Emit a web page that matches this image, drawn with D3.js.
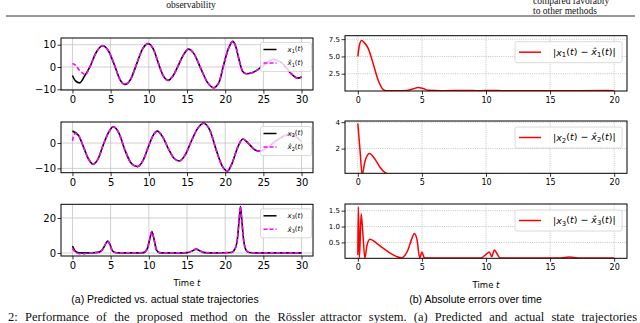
<!DOCTYPE html>
<html>
<head>
<meta charset="utf-8">
<script src="https://cdn.jsdelivr.net/npm/d3@7"></script>
<style>
  body { margin: 0; background: #fff; }
  svg { display: block; }
</style>
</head>
<body>
<div id="fig"></div>
<script>
// ---- (a) state trajectories, t in [0, 30] ----
const tX1 = [0, 0.4, 0.95, 1.6, 2.3, 3.1, 3.95, 4.7, 5.5, 6.2, 6.9, 7.6, 8.4, 9.2, 9.9, 10.6, 11.2, 11.9, 12.5, 13.2, 13.9, 14.5, 15.2, 15.9, 16.8, 17.7, 18.5, 19.2, 19.8, 20.4, 21.0, 21.4, 21.8, 22.3, 22.8, 23.4, 24.2, 25.1, 26.3, 27.4, 28.5, 29.5, 30];
const x1True = [-3.8, -6.2, -7.1, -4.0, 0.2, 6.5, 9.5, 7.3, 0.9, -5.5, -7.8, -5.6, 1.3, 8.2, 10.5, 8.0, 2.2, -4.0, -6.0, -3.8, 1.0, 5.2, 8.0, 6.0, -0.6, -7.0, -9.3, -6.8, 1.0, 8.0, 11.5, 9.0, 3.5, -2.0, -3.0, -2.7, -1.4, 1.0, 3.5, 1.8, -2.5, -5.0, -4.5];
// estimate differs only at the start, then follows the true curve
const tX1HatStart = [0, 0.4, 0.8, 1.25, 1.7];
const x1HatStart = [1.6, 0.8, -1.0, -2.5, -3.3];

const tX2 = [0, 0.8, 1.5, 2.1, 2.7, 3.4, 4.0, 4.7, 5.35, 6.1, 6.9, 7.7, 8.5, 9.3, 10.0, 10.6, 11.1, 11.8, 12.6, 13.3, 14.0, 14.8, 15.6, 16.4, 17.2, 18.0, 18.8, 19.6, 20.3, 20.9, 21.6, 22.3, 23.0, 23.8, 24.5, 25.5, 26.5, 27.5, 28.5, 29.3, 30];
const x2True = [4.7, 3.0, -2.0, -6.3, -8.3, -6.0, -1.0, 4.0, 6.4, 3.8, -3.0, -8.0, -9.3, -6.5, -1.0, 3.2, 4.7, 2.5, -2.5, -6.0, -7.1, -4.5, 1.0, 5.8, 7.8, 5.0, -2.5, -9.0, -11.0, -8.0, -2.0, 1.6, 0.0, -2.5, -3.2, -1.8, 0.5, 2.5, 3.5, 2.5, 0.5];
const tX2HatStart = [0, 0.15, 0.35, 0.55];
const x2HatStart = [0.9, 2.8, 3.8, 3.6];

const tX3 = [0, 0.3, 0.7, 1.2, 2.0, 3.0, 3.5, 3.9, 4.3, 4.6, 4.9, 5.2, 5.6, 6.2, 8.0, 9.3, 9.8, 10.1, 10.4, 10.7, 11.0, 11.4, 12.0, 14.0, 15.0, 15.7, 16.2, 16.7, 17.3, 19.0, 20.8, 21.3, 21.6, 21.85, 22.0, 22.15, 22.4, 22.7, 23.1, 24.0, 27.0, 30];
const x3True = [4.0, 1.5, 0.3, 0.1, 0.1, 0.2, 0.5, 1.8, 4.8, 6.8, 5.0, 1.5, 0.3, 0.1, 0.1, 0.2, 2.5, 7.5, 12.2, 7.5, 1.8, 0.2, 0.1, 0.1, 0.2, 1.2, 2.2, 1.2, 0.2, 0.1, 0.3, 2.5, 8.0, 20.0, 26.5, 20.0, 8.0, 2.0, 0.3, 0.1, 0.1, 0.1];
const tX3HatStart = [0, 0.3, 0.7, 1.2, 1.6, 2.0];
const x3HatStart = [2.6, 0.8, -0.2, -0.6, -0.4, 0.0];

// ---- (b) absolute errors, t in [0, 20] ----
const tE1 = [0, 0.1, 0.29, 0.5, 0.8, 1.19, 1.58, 1.97, 2.23, 3.0, 3.8, 4.3, 4.7, 5.1, 5.5, 6.5, 8.5, 9.5, 10.3, 11.5, 13.0, 15.0, 17.0, 19.5, 20];
const err1 = [5.0, 6.4, 7.3, 7.0, 6.2, 4.0, 1.6, 0.24, 0.03, 0.02, 0.06, 0.3, 0.5, 0.35, 0.1, 0.04, 0.08, 0.03, 0.08, 0.03, 0.04, 0.02, 0.05, 0.07, 0.05];
const tE2 = [0, 0.17, 0.34, 0.55, 0.91, 1.3, 1.7, 2.1, 2.5, 3.0, 4.0, 5.5, 7.0, 8.5, 10.0, 11.5, 13.0, 15.5, 17.0, 19.0, 20];
const err2 = [3.9, 1.9, 0.03, 1.0, 1.62, 1.25, 0.63, 0.2, 0.05, 0.02, 0.03, 0.02, 0.07, 0.03, 0.08, 0.02, 0.03, 0.07, 0.03, 0.08, 0.04];
const tE3 = [0, 0.04, 0.13, 0.26, 0.4, 0.55, 0.72, 0.95, 1.45, 1.97, 2.49, 3.0, 3.4, 3.65, 3.92, 4.18, 4.41, 4.62, 4.83, 5.0, 5.2, 6.0, 9.6, 10.0, 10.25, 10.45, 10.65, 10.85, 11.1, 15.8, 16.5, 17.2, 20];
const err3 = [0.1, 1.62, 0.02, 1.4, 0.75, 0.01, 0.42, 0.6, 0.48, 0.32, 0.17, 0.06, 0.01, 0.08, 0.27, 0.58, 0.78, 0.58, 0.01, 0.2, 0.01, 0.01, 0.01, 0.12, 0.2, 0.05, 0.26, 0.15, 0.01, 0.01, 0.04, 0.01, 0.01];

// ticks
const leftXTicks = [0, 5, 10, 15, 20, 25, 30];
const rightXTicks = [0, 5, 10, 15, 20];
const x1Ticks = [-10, 0, 10];
const x2Ticks = [-10, 0];
const x3Ticks = [0, 20];
const e1Ticks = [2.5, 5.0, 7.5];
const e2Ticks = [2, 4];
const e3Ticks = [0.5, 1.0, 1.5];

const FONT = "'DejaVu Sans', sans-serif";
const SANS = "'Liberation Sans', Arial, sans-serif";
const SERIF = "'Liberation Serif', 'Times New Roman', serif";

const svg = d3.select("#fig").append("svg")
    .attr("width", 640).attr("height", 323)
    .style("background", "#fff");

function pairs(ts, vs) {
    return ts.map((t, i) => [t, vs[i]]);
}
function hatSeries(tStart, vStart, ts, vs) {
    const last = tStart[tStart.length - 1];
    return pairs(tStart, vStart).concat(pairs(ts, vs).filter(d => d[0] > last));
}

// math label like x_1(t) or |x_1(t) - x̂_1(t)|
function mathText(txt, parts) {
    parts.forEach(p => {
        const ts = txt.append("tspan").text(p.s);
        if (p.it) ts.attr("font-style", "italic");
        if (p.sub) ts.attr("font-size", "72%").attr("dy", "0.22em");
        if (p.up) ts.attr("dy", "-0.22em");
    });
}
function stateLabel(i, hat) {
    return [{s: hat ? "x\u0302" : "x", it: true}, {s: i, sub: true}, {s: "(", up: true}, {s: "t", it: true}, {s: ")"}];
}

let clipId = 0;
function panel(p) {
    const x = d3.scaleLinear().domain(p.xDomain).range([p.left, p.right]);
    const y = d3.scaleLinear().domain(p.yDomain).range([p.bottom, p.top]);
    const g = svg.append("g");

    const grid = g.append("g")
        .attr("stroke", p.dotted ? "#b4b4b4" : "#c4c4c4")
        .attr("stroke-width", 0.8)
        .attr("stroke-dasharray", p.dotted ? "1,1.2" : null);
    grid.selectAll("line.gx").data(p.xTicks).join("line").attr("class", "gx")
        .attr("x1", d => x(d)).attr("x2", d => x(d))
        .attr("y1", p.top).attr("y2", p.bottom);
    grid.selectAll("line.gy").data(p.yTicks).join("line").attr("class", "gy")
        .attr("x1", p.left).attr("x2", p.right)
        .attr("y1", d => y(d)).attr("y2", d => y(d));

    const id = "clip" + (clipId++);
    g.append("clipPath").attr("id", id).append("rect")
        .attr("x", p.left).attr("y", p.top)
        .attr("width", p.right - p.left).attr("height", p.bottom - p.top);

    const line = d3.line().x(d => x(d[0])).y(d => y(d[1])).curve(d3.curveMonotoneX);
    const lines = g.append("g").attr("clip-path", `url(#${id})`);
    p.series.forEach(s => {
        lines.append("path")
            .attr("d", line(s.data))
            .attr("fill", "none")
            .attr("stroke", s.color)
            .attr("stroke-width", s.width || 1.5)
            .attr("stroke-dasharray", s.dash || null)
            .attr("stroke-linejoin", "round");
    });

    g.append("rect")
        .attr("x", p.left).attr("y", p.top)
        .attr("width", p.right - p.left).attr("height", p.bottom - p.top)
        .attr("fill", "none").attr("stroke", "#000").attr("stroke-width", 1);

    const ax = g.append("g").attr("transform", `translate(0,${p.bottom})`)
        .call(d3.axisBottom(x).tickValues(p.xTicks).tickSize(3.5).tickPadding(p.xPad).tickFormat(d3.format("d")));
    const ay = g.append("g").attr("transform", `translate(${p.left},0)`)
        .call(d3.axisLeft(y).tickValues(p.yTicks).tickSize(3.5).tickPadding(1.5).tickFormat(p.yFormat));
    [ax, ay].forEach(a => {
        a.select(".domain").remove();
        a.selectAll("line").attr("stroke", "#000").attr("stroke-width", 0.8);
        a.selectAll("text").attr("fill", "#000").attr("font-family", FONT);
    });
    ax.selectAll("text").attr("font-size", p.xFont);
    ay.selectAll("text").attr("font-size", p.yFont);

    if (p.xlabel) {
        const t = g.append("text")
            .attr("x", (p.left + p.right) / 2).attr("y", p.bottom + 30)
            .attr("text-anchor", "middle")
            .attr("font-family", FONT).attr("font-size", 8.5);
        t.append("tspan").text("Time ");
        t.append("tspan").attr("font-style", "italic").text("t");
    }
    p.legend(g, p);
}

function legendLeft(g, p) {
    const bw = 51, bh = 29;
    const bx = p.right - bw - 1.5, by = p.top + 4.5;
    g.append("rect").attr("x", bx).attr("y", by).attr("width", bw).attr("height", bh)
        .attr("rx", 2).attr("fill", "#fff").attr("fill-opacity", 0.8)
        .attr("stroke", "#d0d0d0").attr("stroke-width", 0.8);
    [false, true].forEach((hat, k) => {
        const ly = by + 7 + k * 13.5;
        g.append("line").attr("x1", bx + 3).attr("x2", bx + 16).attr("y1", ly).attr("y2", ly)
            .attr("stroke", hat ? "#ff00ff" : "#000").attr("stroke-width", 1.5)
            .attr("stroke-dasharray", hat ? "4,2" : null);
        const t = g.append("text").attr("x", bx + 27).attr("y", ly + 2.4)
            .attr("font-family", FONT).attr("font-size", 7).attr("fill", "#000");
        mathText(t, stateLabel(p.idx, hat));
    });
}

function legendRight(g, p) {
    const bw = 107, bh = 21;
    const bx = p.right - bw - 5, by = p.top + 6;
    g.append("rect").attr("x", bx).attr("y", by).attr("width", bw).attr("height", bh)
        .attr("rx", 2).attr("fill", "#fff").attr("fill-opacity", 0.8)
        .attr("stroke", "#d0d0d0").attr("stroke-width", 0.8);
    const ly = by + bh / 2;
    g.append("line").attr("x1", bx + 4).attr("x2", bx + 26).attr("y1", ly).attr("y2", ly)
        .attr("stroke", "#ff0000").attr("stroke-width", 1.5);
    const t = g.append("text").attr("x", bx + 38).attr("y", ly + 3.5)
        .attr("font-family", FONT).attr("font-size", 9.5).attr("fill", "#000");
    mathText(t, [{s: "|"}].concat(stateLabel(p.idx, false), [{s: " \u2212 "}], stateLabel(p.idx, true), [{s: "|"}]));
}

const BLACK = "#000000", MAGENTA = "#ff00ff", RED = "#ff0000";
const left = [
    {t: tX1, v: x1True, hs: [tX1HatStart, x1HatStart], yDomain: [-10.3, 13.0], yTicks: x1Ticks, top: 38, bottom: 90},
    {t: tX2, v: x2True, hs: [tX2HatStart, x2HatStart], yDomain: [-11.7, 8.3], yTicks: x2Ticks, top: 122, bottom: 172.7},
    {t: tX3, v: x3True, hs: [tX3HatStart, x3HatStart], yDomain: [-1.7, 27.8], yTicks: x3Ticks, top: 204.3, bottom: 256}
];
left.forEach((d, i) => panel({
    left: 61, right: 313, top: d.top, bottom: d.bottom,
    xDomain: [-1.5, 31.5], yDomain: d.yDomain,
    xTicks: leftXTicks, yTicks: d.yTicks, yFormat: d3.format("d"),
    xFont: 10, yFont: 10, xPad: 2.5, dotted: false, idx: String(i + 1),
    xlabel: i === 2,
    series: [
        {data: pairs(d.t, d.v), color: BLACK, width: 1.6},
        {data: hatSeries(d.hs[0], d.hs[1], d.t, d.v), color: MAGENTA, width: 1.6, dash: "4,2.2"}
    ],
    legend: legendLeft
}));

const right = [
    {t: tE1, v: err1, yDomain: [0.0, 8.0], yTicks: e1Ticks, fmt: d3.format(".1f"), top: 35.7, bottom: 91},
    {t: tE2, v: err2, yDomain: [0.13, 4.09], yTicks: e2Ticks, fmt: d3.format("d"), top: 121, bottom: 173.3},
    {t: tE3, v: err3, yDomain: [0.0, 1.71], yTicks: e3Ticks, fmt: d3.format(".1f"), top: 204, bottom: 258.3}
];
right.forEach((d, i) => panel({
    left: 345, right: 627, top: d.top, bottom: d.bottom,
    xDomain: [-1, 21], yDomain: d.yDomain,
    xTicks: rightXTicks, yTicks: d.yTicks, yFormat: d.fmt,
    xFont: 8, yFont: 7, xPad: 2.5, dotted: true, idx: String(i + 1),
    xlabel: i === 2,
    series: [{data: pairs(d.t, d.v), color: RED, width: 1.5}],
    legend: legendRight
}));

// sub-captions
svg.append("text").attr("x", 165).attr("y", 302.5).attr("text-anchor", "middle")
    .attr("font-family", SANS).attr("font-size", 10.5)
    .text("(a) Predicted vs. actual state trajectories");
svg.append("text").attr("x", 475.5).attr("y", 302.5).attr("text-anchor", "middle")
    .attr("font-family", SANS).attr("font-size", 10.5)
    .text("(b) Absolute errors over time");

// page context: end of the table above, caption below
svg.append("line").attr("x1", 6).attr("x2", 635).attr("y1", 16).attr("y2", 16)
    .attr("stroke", "#333").attr("stroke-width", 1);
const topText = [
    {x: 191, y: 7.5, s: "observability", mid: true},
    {x: 533, y: 3.8, s: "compared favorably"},
    {x: 533, y: 14.3, s: "to other methods"}
];
topText.forEach(d => svg.append("text").attr("x", d.x).attr("y", d.y)
    .attr("text-anchor", d.mid ? "middle" : "start")
    .attr("font-family", SERIF).attr("font-size", 9.5).attr("fill", "#111").text(d.s));

// justified caption line: spread the words over the given width
function justified(x, y, width, s) {
    const t = svg.append("text").attr("x", x).attr("y", y)
        .attr("font-family", SERIF).attr("font-size", 12.5).attr("fill", "#111").text(s);
    const gaps = s.split(" ").length - 1;
    const extra = (width - t.node().getComputedTextLength()) / gaps;
    t.style("word-spacing", extra + "px");
}
justified(8, 320.5, 307, "2: Performance of the proposed method on the R\u00f6ssler");
justified(320, 320.5, 317, "attractor system. (a) Predicted and actual state trajectories");
</script>
</body>
</html>
